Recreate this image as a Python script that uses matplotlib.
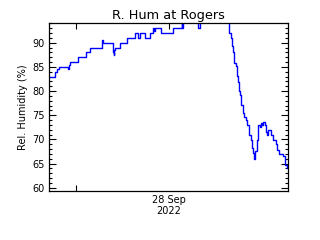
import matplotlib
matplotlib.use("Agg")
import matplotlib.pyplot as plt
from matplotlib.ticker import MultipleLocator

# time in hours from the left edge of the plot window, relative humidity in %
hours = [0.0, 0.6, 0.8, 1.03, 1.94, 2.0, 2.1, 2.94, 3.72, 4.12, 5.29, 5.3, 5.4,
         6.40, 6.48, 6.55, 6.63, 7.13, 7.86, 8.64, 8.97, 9.14, 9.64, 9.97, 10.14,
         10.47, 10.55, 10.64, 11.22, 12.48, 13.32, 13.38, 13.42, 13.45, 14.96,
         15.16, 18.0, 18.1, 18.25, 18.38, 18.45, 18.55, 18.6, 18.75, 18.85,
         18.95, 19.05, 19.18, 19.28, 19.45, 19.58, 19.75, 19.91, 20.08, 20.28,
         20.41, 20.51, 20.61, 20.71, 20.85, 20.95, 21.19, 21.29, 21.39, 21.52,
         21.69, 21.79, 21.92, 22.02, 22.19, 22.29, 22.46, 22.69, 22.79, 22.92,
         23.09, 23.39, 23.49, 23.69, 23.86, 24.0]
rh = [83, 84, 84.5, 85, 84.5, 85.5, 86, 87, 88, 89, 90, 90.5, 90,
      88, 87.5, 88.5, 89, 90, 91, 92, 91, 92, 91, 91, 92,
      93, 92.5, 93, 92, 93, 94, 93, 93, 96, 93,
      96, 96, 92, 91, 89.3, 88, 86.7, 85.9, 85.2, 83.2,
      81.8, 80.1, 79.1, 77.1, 75.4, 74.7, 74.0, 73.0, 70.9, 69.9,
      68.2, 67.2, 66.0, 67.6, 69.9, 73.0, 72.5, 73.5, 73, 73.7,
      73, 71.6, 71, 72, 72, 71, 69.8, 69.8, 69, 67.9,
      66.9, 67, 66.5, 64.8, 64.1, 64.0]

ytick_vals = [60, 65, 70, 75, 80, 85, 90]
xtick_pos = [2.68, 12.0]
xtick_labels = ["", "28 Sep\n2022"]

fig = plt.figure(figsize=(3.2, 2.4), dpi=100)
ax = fig.add_axes([49/320, 1-190.7/240, (288-49)/320, (190.7-23)/240])
ax.plot(hours, rh, color="#0000ff", lw=1.0, drawstyle="steps-post")
ax.set_xlim(0, 24)
ax.set_ylim(59.4, 94.1)

ax.set_yticks(ytick_vals)
ax.yaxis.set_minor_locator(MultipleLocator(1))
ax.set_xticks(xtick_pos, labels=xtick_labels)
ticks = ax.xaxis.get_major_ticks()
ticks[1].tick1line.set_visible(False)
ticks[1].tick2line.set_visible(False)

ax.tick_params(axis="both", which="both", direction="in", top=True, right=True,
               labelsize=7, width=0.8, color="black")
ax.tick_params(axis="y", which="major", length=5, pad=3)
ax.tick_params(axis="y", which="minor", length=2.5)
ax.tick_params(axis="x", which="major", length=4, pad=3)
for s in ax.spines.values():
    s.set_linewidth(0.9)

ax.set_title("R. Hum at Rogers", fontsize=9.3, pad=3)
ax.set_ylabel("Rel. Humidity (%)", fontsize=7, labelpad=3)

fig.savefig("out.png", dpi=100)
